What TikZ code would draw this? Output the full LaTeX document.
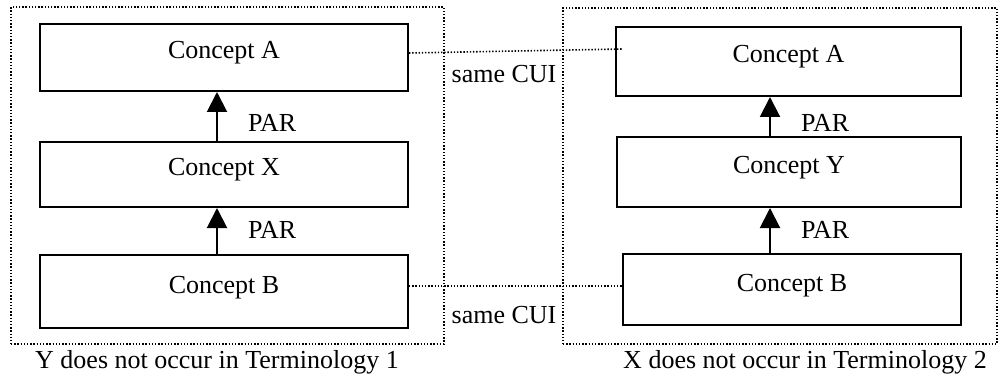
\documentclass[tikz,border=0pt]{standalone}
\usepackage{fontspec}
\setmainfont{Liberation Serif}
\usetikzlibrary{arrows.meta}
\begin{document}
\begin{tikzpicture}[x=0.5pt,y=-0.5pt,
  concept/.style={draw,rectangle,line width=1pt,inner sep=0pt,text height=9pt,text depth=7.5pt,font=\fontsize{13}{15}\selectfont},
  term/.style={draw,rectangle,line width=0.8pt,dash pattern=on 0.7pt off 0.9pt,inner sep=0pt},
  par/.style={draw,line width=1pt,-{Triangle[length=10pt,width=10pt]}},
  cui/.style={draw,line width=0.8pt,dash pattern=on 0.7pt off 0.9pt},
  lbl/.style={inner sep=0pt,font=\fontsize{13}{15}\selectfont}]
\useasboundingbox (0,0) rectangle (1001,385);
% the two terminologies
\node[term,minimum width=216.5pt,minimum height=168.5pt] (t1) at (227.5,175.5) {};
\node[term,minimum width=217pt,minimum height=168pt] (t2) at (780,176) {};
% terminology 1
\node[concept,minimum width=184pt,minimum height=33.5pt] (a1) at (224,57.5) {Concept A};
\node[concept,minimum width=184pt,minimum height=32.5pt] (x1) at (224,174.5) {Concept X};
\node[concept,minimum width=184pt,minimum height=36.5pt] (b1) at (224,291.5) {Concept B};
% terminology 2
\node[concept,minimum width=172.5pt,minimum height=34.5pt] (a2) at (788.5,61.5) {Concept A};
\node[concept,minimum width=172pt,minimum height=35pt] (y2) at (789,172) {Concept Y};
\node[concept,minimum width=169pt,minimum height=35.5pt] (b2) at (792,289.5) {Concept B};
\coordinate (c1) at (623,49);

\path[par] ([xshift=-3.5pt]x1.north) -- ([xshift=-3.5pt]a1.south) node[lbl,pos=0.37,anchor=west,xshift=15pt] (p1) {PAR};
\path[par] ([xshift=-3.5pt]b1.north) -- ([xshift=-3.5pt]x1.south) node[lbl,pos=0.52,anchor=west,xshift=15pt] (p2) {PAR};
\path[par] ([xshift=-9.5pt]y2.north) -- ([xshift=-9.25pt]a2.south) node[lbl,pos=0.34,anchor=west,xshift=15pt] (p3) {PAR};
\path[par] ([xshift=-11pt]b2.north) -- ([xshift=-9.5pt]y2.south) node[lbl,pos=0.51,anchor=west,xshift=15pt] (p4) {PAR};

% shared concepts
\path[cui] ([yshift=2.25pt]a1.east) -- (c1);
\path[cui] ([yshift=2.75pt]b1.east) -- ([yshift=1.75pt]b2.west);
\node[lbl] (s1) at (504,74) {same CUI};
\node[lbl] (s2) at (504,315) {same CUI};

\node[lbl] (n1) at (217,362) {Y does not occur in Terminology 1};
\node[lbl] (n2) at (805,362) {X does not occur in Terminology 2};
\end{tikzpicture}
\end{document}
